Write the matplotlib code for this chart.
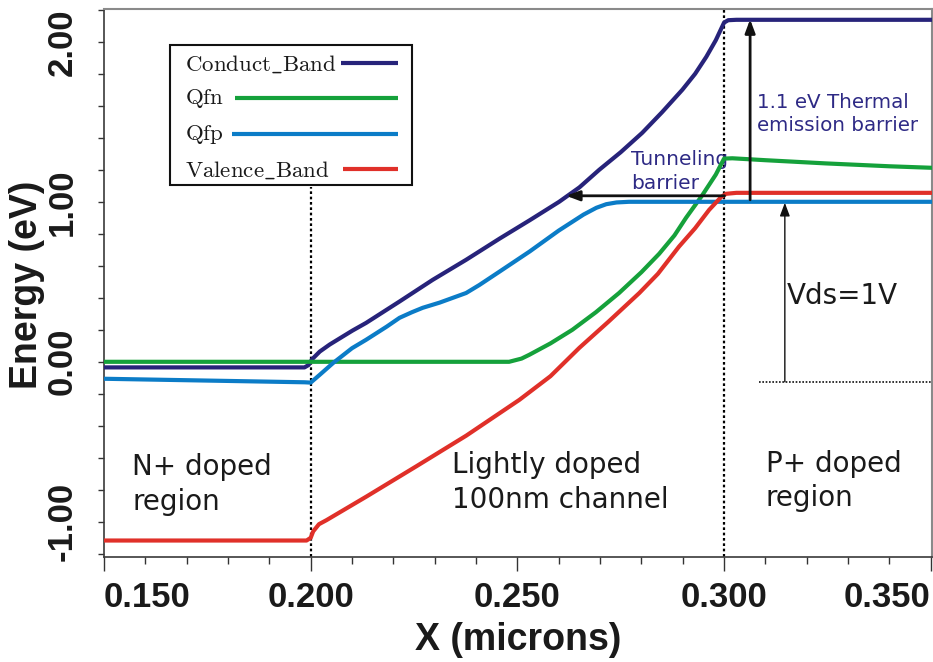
import matplotlib
matplotlib.use("Agg")
import matplotlib.pyplot as plt
from matplotlib.lines import Line2D
from matplotlib.patches import Rectangle
from matplotlib.ticker import MultipleLocator

plt.rcParams['mathtext.fontset'] = 'cm'

# band diagram (x in microns, energy in eV)
cb_x = [0.150, 0.1985, 0.1995, 0.2003, 0.2022, 0.2046, 0.2070, 0.2101, 0.2134, 0.2215,
        0.2295, 0.2376, 0.2457, 0.2530, 0.2601, 0.2650, 0.2698, 0.2750, 0.2802, 0.2850,
        0.2899, 0.2930, 0.2957, 0.2980, 0.3000, 0.3010, 0.3030, 0.3503]
cb_y = [-0.035, -0.035, -0.02, 0.015, 0.064, 0.108, 0.146, 0.195, 0.243, 0.377,
        0.512, 0.6375, 0.77, 0.885, 1.00, 1.09, 1.20, 1.31, 1.431, 1.56,
        1.70, 1.80, 1.906, 2.01, 2.12, 2.135, 2.1375, 2.1375]

qfn_x = [0.150, 0.2480, 0.2510, 0.2529, 0.2580, 0.2633, 0.2690, 0.2746, 0.2800, 0.2843,
         0.2880, 0.2908, 0.2947, 0.2980, 0.3000, 0.3020, 0.3100, 0.3246, 0.3400, 0.3503]
qfn_y = [0.0, 0.0, 0.02, 0.044, 0.115, 0.2, 0.31, 0.43, 0.56, 0.675,
         0.79, 0.9, 1.04, 1.17, 1.27, 1.272, 1.26, 1.24, 1.222, 1.2125]

qfp_x = [0.150, 0.1985, 0.2000, 0.2022, 0.2054, 0.2100, 0.2134, 0.2184, 0.2215, 0.2245,
         0.2271, 0.2312, 0.2376, 0.2408, 0.2457, 0.2530, 0.2600, 0.2660, 0.2691, 0.2715,
         0.2740, 0.2770, 0.3503]
qfp_y = [-0.106, -0.128, -0.13, -0.081, -0.008, 0.085, 0.1375, 0.22, 0.275, 0.31,
         0.3375, 0.37, 0.43, 0.48, 0.564, 0.69, 0.82, 0.92, 0.9625, 0.985,
         0.996, 1.0, 1.0]

vb_x = [0.150, 0.1990, 0.2000, 0.2006, 0.2020, 0.2038, 0.2135, 0.2255, 0.2376,
        0.2505, 0.2580, 0.2650, 0.2720, 0.2795, 0.2840, 0.2891, 0.2930, 0.2964, 0.2993,
        0.3005, 0.3030, 0.3503]
vb_y = [-1.117, -1.117, -1.10, -1.06, -1.015, -0.99, -0.842, -0.654, -0.462,
        -0.2375, -0.09, 0.0875, 0.25, 0.43, 0.55, 0.72, 0.835, 0.95, 1.03,
        1.05, 1.056, 1.056]

series_names = ["Conduct_Band", "Qfn", "Qfp", "Valence_Band"]

x_ticks = [0.15, 0.20, 0.25, 0.30, 0.35]
x_tick_labels = ["0.150", "0.200", "0.250", "0.300", "0.350"]
y_ticks = [-1.0, 0.0, 1.0, 2.0]
y_tick_labels = ["-1.00", "0.00", "1.00", "2.00"]

navy = "#27237a"
green = "#15a13b"
blue = "#0b7cc7"
red = "#e03029"
note = "#2e2a85"

W, H = 933, 662
fig = plt.figure(figsize=(W / 100, H / 100), dpi=100)
ax = fig.add_axes([104 / W, 1 - 557 / H, 828 / W, 548 / H])

# region boundaries
ax.vlines(0.2, -1.25, 1.09, colors="black", linestyles=(0, (1.2, 1.2)), lw=1.6, zorder=1)
ax.vlines(0.3, -1.25, 2.3, colors="black", linestyles=(0, (1.2, 1.2)), lw=1.6, zorder=1)

ax.plot(cb_x, cb_y, color=navy, lw=3, zorder=3, solid_joinstyle="round")
ax.plot(qfn_x, qfn_y, color=green, lw=3, zorder=3, solid_joinstyle="round")
ax.plot(qfp_x, qfp_y, color=blue, lw=3, zorder=3, solid_joinstyle="round")
ax.plot(vb_x, vb_y, color=red, lw=3, zorder=3, solid_joinstyle="round")

ax.set_xlim(0.15, 0.3503)
ax.set_ylim(-1.22, 2.205)

ax.set_xticks(x_ticks)
ax.set_xticklabels(x_tick_labels)
ax.set_yticks(y_ticks)
ax.set_yticklabels(y_tick_labels)
ax.xaxis.set_minor_locator(MultipleLocator(0.01))
ax.yaxis.set_minor_locator(MultipleLocator(0.2))

for lab in ax.get_xticklabels() + ax.get_yticklabels():
    lab.set_fontfamily("Liberation Sans")
    lab.set_fontweight("bold")
    lab.set_fontsize(25)
    lab.set_color("#1a1a1a")
xl = ax.get_xticklabels()
xl[0].set_ha("left")
xl[-1].set_ha("right")
for lab in ax.get_yticklabels():
    lab.set_rotation(90)
    lab.set_va("center")
    lab.set_ha("center")

ax.tick_params(axis="x", which="major", length=10, width=1, pad=7, color="#333333")
ax.tick_params(axis="x", which="minor", length=5, width=1, color="#333333")
ax.tick_params(axis="y", which="both", length=4, width=1, pad=26, color="#333333")

for s in ["left", "bottom"]:
    ax.spines[s].set_color("#3a3a3a")
    ax.spines[s].set_linewidth(1.2)
for s in ["top", "right"]:
    ax.spines[s].set_color("#8a8a8a")
    ax.spines[s].set_linewidth(1.5)

fig.text(27 / W, 1 - 285 / H, "Energy (eV)", rotation=90, ha="center", va="center",
         fontsize=27, fontweight="bold", family="Liberation Sans", color="#1a1a1a")
fig.text(518 / W, 1 - 640 / H, "X (microns)", ha="center", va="center",
         fontsize=27, fontweight="bold", family="Liberation Sans", color="#1a1a1a")

# arrows
ax.annotate("", xy=(0.2618, 1.0375), xytext=(0.3001, 1.0375),
            arrowprops=dict(arrowstyle="-|>,head_length=0.8,head_width=0.3", color="#111111",
                            lw=2, shrinkA=0, shrinkB=0), zorder=4)
ax.annotate("", xy=(0.3063, 2.14), xytext=(0.3063, 1.0125),
            arrowprops=dict(arrowstyle="-|>,head_length=0.8,head_width=0.3", color="#111111",
                            lw=2, shrinkA=0, shrinkB=0), zorder=4)
ax.annotate("", xy=(0.3147, 0.994), xytext=(0.3147, -0.125),
            arrowprops=dict(arrowstyle="-|>,head_length=0.8,head_width=0.3", color="#111111",
                            lw=1, shrinkA=0, shrinkB=0), zorder=4)
ax.hlines(-0.125, 0.3085, 0.3503, colors="#111111", linestyles=(0, (1, 1)), lw=1.2)

# notes
ax.text(0.2775, 1.19, "Tunneling\nbarrier", color=note, fontsize=14.5, ha="left", va="center",
        linespacing=1.3, family="DejaVu Sans", zorder=2)
ax.text(0.3080, 1.55, "1.1 eV Thermal\nemission barrier", color=note, fontsize=14.3, ha="left",
        va="center", linespacing=1.3, family="DejaVu Sans")
ax.text(0.3152, 0.41, "Vds=1V", color="#1a1a1a", fontsize=20, ha="left", va="center",
        family="DejaVu Sans")
ax.text(0.1568, -0.765, "N+ doped\nregion", color="#1a1a1a", fontsize=20, ha="left",
        va="center", linespacing=1.3, family="DejaVu Sans")
ax.text(0.2341, -0.756, "Lightly doped\n100nm channel", color="#1a1a1a", fontsize=20,
        ha="left", va="center", linespacing=1.3, family="DejaVu Sans")
ax.text(0.3101, -0.745, "P+ doped\nregion", color="#1a1a1a", fontsize=20, ha="left",
        va="center", linespacing=1.3, family="DejaVu Sans")

# legend box drawn by hand (text left, line filling to the right)
fig.add_artist(Rectangle((170 / W, 1 - 185 / H), 242 / W, 140 / H, transform=fig.transFigure,
                         facecolor="white", edgecolor="#111111", lw=1.5, zorder=5))
leg_rows = [64, 99, 135, 170]
leg_line_start = [341, 235, 232, 343]
leg_colors = [navy, green, blue, red]
for name, row, x0, c in zip(series_names, leg_rows, leg_line_start, leg_colors):
    fig.text(185 / W, 1 - row / H, r"$\mathrm{" + name.replace("_", r"\_") + "}$",
             fontsize=16.5, ha="left", va="center", color="#1a1a1a", zorder=6)
    fig.add_artist(Line2D([x0 / W, 398 / W], [1 - (row - 1) / H, 1 - (row - 1) / H],
                          transform=fig.transFigure, color=c, lw=3, zorder=6,
                          solid_capstyle="butt"))

fig.savefig("out.png", dpi=100)
